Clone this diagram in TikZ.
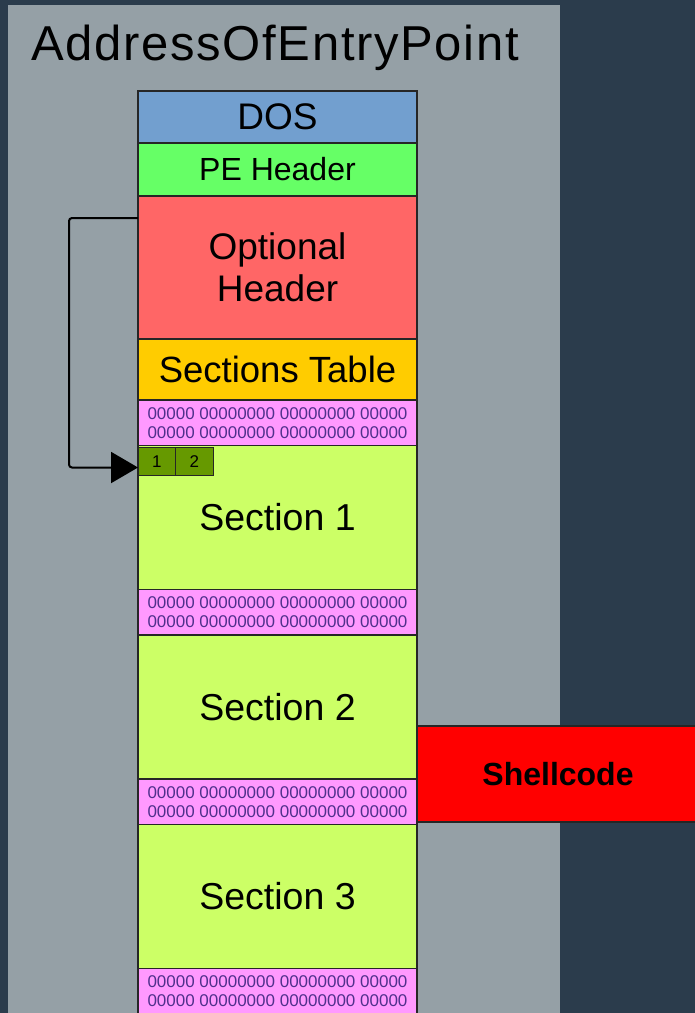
\documentclass[tikz,border=0pt]{standalone}
\usepackage{fontspec}
\setmainfont{Liberation Sans}
\usetikzlibrary{arrows.meta,positioning}

\definecolor{pagebg}{HTML}{2B3C4C}
\definecolor{panelgray}{HTML}{95A0A6}
\definecolor{dosblue}{HTML}{729FCF}
\definecolor{pegreen}{HTML}{66FF66}
\definecolor{optred}{HTML}{FF6666}
\definecolor{tableorange}{HTML}{FFCC00}
\definecolor{padpink}{HTML}{FF99FF}
\definecolor{zerofg}{HTML}{50308C}
\definecolor{seclime}{HTML}{CCFF66}
\definecolor{idxgreen}{HTML}{669900}
\definecolor{shellred}{HTML}{FF0000}

\newcommand{\zeroline}{00000 00000000 00000000 00000}

\begin{document}
\begin{tikzpicture}[
        x=1pt, y=-1pt,
        block/.style={
            draw=black!85,
            line width=1.2pt,
            inner sep=0pt,
            outer sep=0pt,
            align=center,
            minimum width=279pt
        },
        dosbox/.style={block, fill=dosblue, minimum height=52pt, font=\fontsize{37}{40}\selectfont},
        pebox/.style={block, fill=pegreen, minimum height=53pt, font=\fontsize{32}{36}\selectfont},
        optbox/.style={block, fill=optred, minimum height=143pt, font=\fontsize{37}{42}\selectfont},
        tablebox/.style={block, fill=tableorange, minimum height=61pt, font=\fontsize{36.5}{40}\selectfont},
        pad/.style={block, fill=padpink, minimum height=45.5pt, text=zerofg, font=\fontsize{17}{19}\selectfont},
        section/.style={block, fill=seclime, minimum height=144pt, font=\fontsize{37.5}{40}\selectfont},
        idx/.style={
            draw=black!85,
            line width=1pt,
            fill=idxgreen,
            inner sep=0pt,
            outer sep=0pt,
            minimum width=37.5pt,
            minimum height=28pt,
            font=\fontsize{17}{17}\selectfont
        },
        shell/.style={
            draw=black!85,
            line width=1.2pt,
            fill=shellred,
            inner sep=0pt,
            outer sep=0pt,
            minimum width=282pt,
            minimum height=96pt,
            font=\fontsize{32}{36}\selectfont\bfseries
        },
        entry/.style={-{Triangle[length=27pt,width=31pt]}, line width=2pt, rounded corners=3pt}
    ]
        \clip (0,0) rectangle (695,1013);
        \fill[pagebg] (0,0) rectangle (695,1013);
        \fill[panelgray] (8,5) rectangle (560,1020);

        \node[anchor=base west, font=\fontsize{49}{52}\selectfont\addfontfeatures{LetterSpace=3.4}] (title) at (28,60) {AddressOfEntryPoint};

        % PE layout, top to bottom
        \node[dosbox, anchor=north] (dos) at (277.5,91) {DOS};
        \node[pebox, below=0pt of dos] (pe) {PE Header};
        \node[optbox, below=0pt of pe] (opt) {Optional\\Header};
        \node[tablebox, below=0pt of opt] (sectab) {Sections Table};
        \node[pad, below=0pt of sectab] (pad0) {\zeroline\\\zeroline};
        \foreach \i/\prev in {1/0,2/1,3/2} {
            \node[section, below=0pt of pad\prev] (sec\i) {Section \i};
            \node[pad, below=0pt of sec\i] (pad\i) {\zeroline\\\zeroline};
        }

        \node[idx, anchor=north west] (idx1) at ([yshift=-2pt]sec1.north west) {1};
        \node[idx, right=0pt of idx1] (idx2) {2};

        \node[shell, anchor=north west] (shell) at (417,726) {Shellcode};

        % entry point jump
        \coordinate (jump) at ([yshift=-22pt]opt.north west);
        \draw[entry] (jump) -- ++(-69,0) |- ([yshift=-6pt]idx1.west);
    \end{tikzpicture}
\end{document}
